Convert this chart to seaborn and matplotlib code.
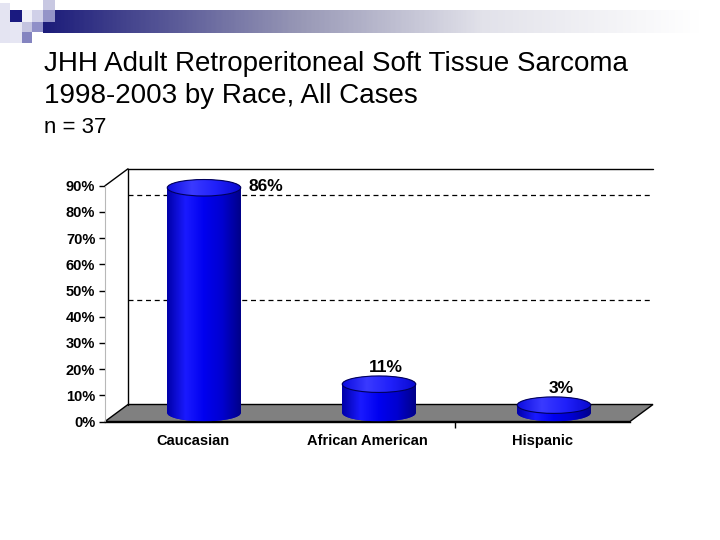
import numpy as np
import pandas as pd
import matplotlib
matplotlib.use("Agg")
import matplotlib.pyplot as plt
import seaborn as sns
from matplotlib.patches import Ellipse, Polygon, Rectangle
from matplotlib.colors import LinearSegmentedColormap

# données
races = ["Caucasian", "African American", "Hispanic"]
shares = [86, 11, 3]
y_ticks = [0, 10, 20, 30, 40, 50, 60, 70, 80, 90]
grid_lines = [40, 80]
title_lines = ["JHH Adult Retroperitoneal Soft Tissue Sarcoma", "1998-2003 by Race, All Cases"]
subtitle = "n = 37"

df = pd.DataFrame({"Race": races, "Share": shares})

sns.set_theme(style="white")
plt.rcParams["font.family"] = ["Liberation Sans", "DejaVu Sans"]
plt.rcParams["text.color"] = "black"
plt.rcParams["xtick.color"] = "black"
plt.rcParams["ytick.color"] = "black"

fig = plt.figure(figsize=(7.2, 5.4), dpi=100)
fig.patch.set_facecolor("white")

# bandeau décoratif en haut à gauche (coordonnées en pixels)
head = fig.add_axes([0, 0, 1, 1], zorder=0)
head.set_xlim(0, 720)
head.set_ylim(540, 0)
head.axis("off")
band_cmap = LinearSegmentedColormap.from_list(
    "band", [(0, "#1c1c7a"), (0.38, "#9898b6"), (0.65, "#e2e2ea"), (0.97, "#ffffff"), (1, "#ffffff")])
head.imshow(np.linspace(0, 1, 400)[None, :], cmap=band_cmap, extent=(43, 720, 33, 10),
            aspect="auto", zorder=1)
squares = [
    (0, 3, 10, 40, "#e4e4f2"),
    (10, 10, 12, 12, "#1a1a80"),
    (10, 22, 12, 21, "#e6e6f3"),
    (22, 10, 10, 12, "#f0f0f8"),
    (32, 10, 11, 12, "#d0d0e8"),
    (43, 0, 12, 10, "#c8c8e2"),
    (43, 10, 12, 12, "#9494c8"),
    (22, 22, 10, 10, "#c4c4e0"),
    (32, 22, 11, 10, "#9090c8"),
    (22, 32, 10, 11, "#8484c0"),
]
for sx, sy, sw, sh, sc in squares:
    head.add_patch(Rectangle((sx, sy), sw, sh, facecolor=sc, edgecolor="none", zorder=2))

fig.text(44 / 720, 1 - 71 / 540, title_lines[0], fontsize=20, va="baseline", ha="left")
fig.text(44 / 720, 1 - 103 / 540, title_lines[1], fontsize=20, va="baseline", ha="left")
fig.text(44 / 720, 1 - 133 / 540, subtitle, fontsize=16, va="baseline", ha="left")

# axes principaux : 0 % à y=421 px, 2.62 px par %
px_per = 2.619
top_val = 96.5
ax = fig.add_axes([105 / 720, (540 - 421.5) / 540, 525 / 720, top_val * px_per / 540], zorder=1)
ax.set_facecolor("none")

dx = 23 / 175
dy = 17 / px_per

sns.barplot(data=df, x="Race", y="Share", color="#0000e0", saturation=1,
            width=0.42, errorbar=None, ax=ax, zorder=3)

ax.set_xlim(-0.5, 2.5)
ax.set_ylim(0, top_val)

# sol gris, murs et lignes de quadrillage
ax.add_patch(Polygon([(-0.5, 0), (2.5, 0), (2.5 + dx, dy), (-0.5 + dx, dy)], closed=True,
                     facecolor="#808080", edgecolor="black", lw=1, clip_on=False, zorder=1))
ax.plot([-0.5 + dx, -0.5 + dx, 2.5 + dx], [dy, 90 + dy, 90 + dy], color="black", lw=1,
        clip_on=False, zorder=1)
ax.plot([-0.5, -0.5 + dx], [90, 90 + dy], color="black", lw=1, clip_on=False, zorder=1)
for gl in grid_lines:
    ax.plot([-0.5 + dx, 2.5 + dx], [gl + dy, gl + dy], color="black", lw=0.9,
            ls=(0, (4, 3)), clip_on=False, zorder=1.5)

body_cmap = LinearSegmentedColormap.from_list(
    "cyl", ["#0000a8", "#1a1aff", "#0000f0", "#0000d0", "#000088"])
top_cmap = LinearSegmentedColormap.from_list(
    "cyltop", ["#0c0ce0", "#3a3aff", "#2020fa", "#0a0ad0"])
grad = np.linspace(0, 1, 128)[None, :]
eh = 6.3

for p, v in zip(ax.patches[:len(shares)], shares):
    w = p.get_width()
    p.set_x(p.get_x() + dx / 2)
    p.set_y(dy / 2)
    p.set_edgecolor("none")
    x0 = p.get_x()
    xc = x0 + w / 2
    im = ax.imshow(grad, cmap=body_cmap, extent=(x0, x0 + w, dy / 2, dy / 2 + v),
                   aspect="auto", zorder=3.05)
    im.set_clip_path(p)
    bot = Ellipse((xc, dy / 2), w, eh, facecolor="#0000d0", edgecolor="none", zorder=2.9)
    ax.add_patch(bot)
    im2 = ax.imshow(grad, cmap=body_cmap, extent=(x0, x0 + w, dy / 2 - eh / 2, dy / 2 + eh / 2),
                    aspect="auto", zorder=2.95)
    im2.set_clip_path(bot)
    cap = Ellipse((xc, dy / 2 + v), w, eh, facecolor="#1c1cf0", edgecolor="none", zorder=3.2)
    ax.add_patch(cap)
    im3 = ax.imshow(grad, cmap=top_cmap, extent=(x0, x0 + w, dy / 2 + v - eh / 2, dy / 2 + v + eh / 2),
                    aspect="auto", zorder=3.25)
    im3.set_clip_path(cap)
    ax.add_patch(Ellipse((xc, dy / 2 + v), w, eh, facecolor="none", edgecolor="#00005a",
                         lw=0.8, zorder=3.3))
    if v > 80:
        ax.text(x0 + w + 0.045, v + dy / 2 + 0.6, f"{v}%", ha="left", va="center",
                fontsize=12.5, fontweight="bold", zorder=4)
    else:
        ax.text(xc + 0.04, v + dy / 2 + 6.5, f"{v}%", ha="center", va="center",
                fontsize=12.5, fontweight="bold", zorder=4, clip_on=False)

ax.set_xlim(-0.5, 2.5)
ax.set_ylim(0, top_val)

# axes et graduations
for side in ["top", "right"]:
    ax.spines[side].set_visible(False)
ax.spines["left"].set_color("#b8b8b8")
ax.spines["left"].set_linewidth(0.8)
ax.spines["left"].set_bounds(0, 90)
ax.spines["bottom"].set_color("black")
ax.spines["bottom"].set_linewidth(1)

ax.set_yticks(y_ticks)
ax.set_yticklabels([f"{t}%" for t in y_ticks], fontsize=10.5, fontweight="bold")
ax.tick_params(axis="y", length=4, width=1, color="black", labelcolor="black", pad=3,
               direction="out", left=True)
ax.set_xticks(range(len(races)))
ax.set_xticklabels(races, fontsize=10.5, fontweight="bold")
ax.set_xticks([1.5], minor=True)
ax.tick_params(axis="x", which="major", length=0, pad=9, labelcolor="black")
ax.tick_params(axis="x", which="minor", length=4, width=1, color="black", direction="out",
               bottom=True)
ax.set_xlabel("")
ax.set_ylabel("")
ax.grid(False)

fig.savefig("out.png", dpi=100, facecolor="white")
